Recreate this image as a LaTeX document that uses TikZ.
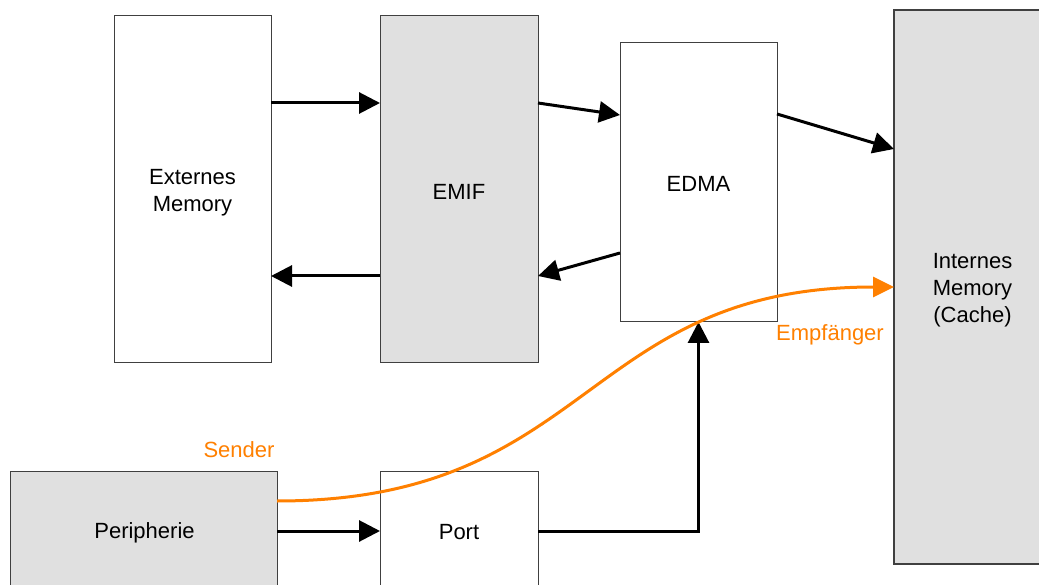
\documentclass[tikz,border=0pt]{standalone}
\usepackage{fontspec}
\setmainfont{Liberation Sans}
\usetikzlibrary{arrows.meta}
\definecolor{boxgray}{HTML}{E0E0E0}
\definecolor{orng}{HTML}{FF8000}
\begin{document}
\begin{tikzpicture}[x=1pt,y=-1pt,
  box/.style={draw=black!75, line width=1pt, anchor=north west, inner sep=0pt, outer sep=0pt},
  graybox/.style={box, fill=boxgray},
  txt/.style={align=center, inner sep=0pt, font=\fontsize{22}{27}\selectfont},
  arr/.style={line width=3pt, -{Triangle[length=21pt,width=21pt]}},
  oarr/.style={draw=orng, line width=3pt, -{Triangle[length=21pt,width=20pt]}},
  lbl/.style={text=orng, inner sep=0pt, font=\fontsize{22}{27}\selectfont}]
\useasboundingbox (0,0) rectangle (1039,585);
\fill[white] (0,0) rectangle (1039,585);
\node[box, minimum width=157pt, minimum height=346pt] (ext) at (114,16) {};
\node[graybox, minimum width=158pt, minimum height=346pt] (emif) at (380,16) {};
\node[box, minimum width=157pt, minimum height=279pt] (edma) at (620,43) {};
\node[graybox, minimum width=157pt, minimum height=554pt, line width=1.3pt] (int) at (894,10) {};
\node[graybox, minimum width=267pt, minimum height=120pt] (peri) at (10,471) {};
\node[box, minimum width=158pt, minimum height=120pt] (port) at (380,471) {};
\node[txt, yshift=-4pt] (extT) at (ext.center) {Externes\\Memory};
\node[txt, yshift=-2.5pt] (emifT) at (emif.center) {EMIF};
\node[txt, yshift=-1.5pt] (edmaT) at (edma.center) {EDMA};
\node[txt, yshift=-3.5pt] (intT) at (int.center) {Internes\\Memory\\(Cache)};
\node[txt, yshift=-1.5pt, xshift=1pt] (periT) at (peri.center) {Peripherie};
\node[txt, yshift=-1pt] (portT) at (port.center) {Port};
\coordinate (yA) at (0,103);
\coordinate (yB) at (0,276);
\coordinate (yC) at (0,115);
\coordinate (yD) at (0,253);
\coordinate (yE) at (0,114);
\coordinate (yF) at (0,149);
\coordinate (yG) at (0,531);
\coordinate (yH) at (0,501);
\coordinate (yI) at (0,287);
\draw[arr] (ext.east |- yA) -- (emif.west |- yA);
\draw[arr] (emif.west |- yB) -- (ext.east |- yB);
\draw[arr] (emif.east |- yA) -- (edma.west |- yC);
\draw[arr] (edma.west |- yD) -- (emif.east |- yB);
\draw[arr] (edma.east |- yE) -- (int.west |- yF);
\draw[arr] (peri.east |- yG) -- (port.west |- yG);
\draw[arr] (port.east |- yG) -| (edma.south);
\draw[oarr] (peri.east |- yH) .. controls (592,501) and (583,287) .. (int.west |- yI);
\node[lbl] (snd) at (239,450) {Sender};
\node[lbl] (emp) at (830,335) {Empfänger};
\end{tikzpicture}
\end{document}
